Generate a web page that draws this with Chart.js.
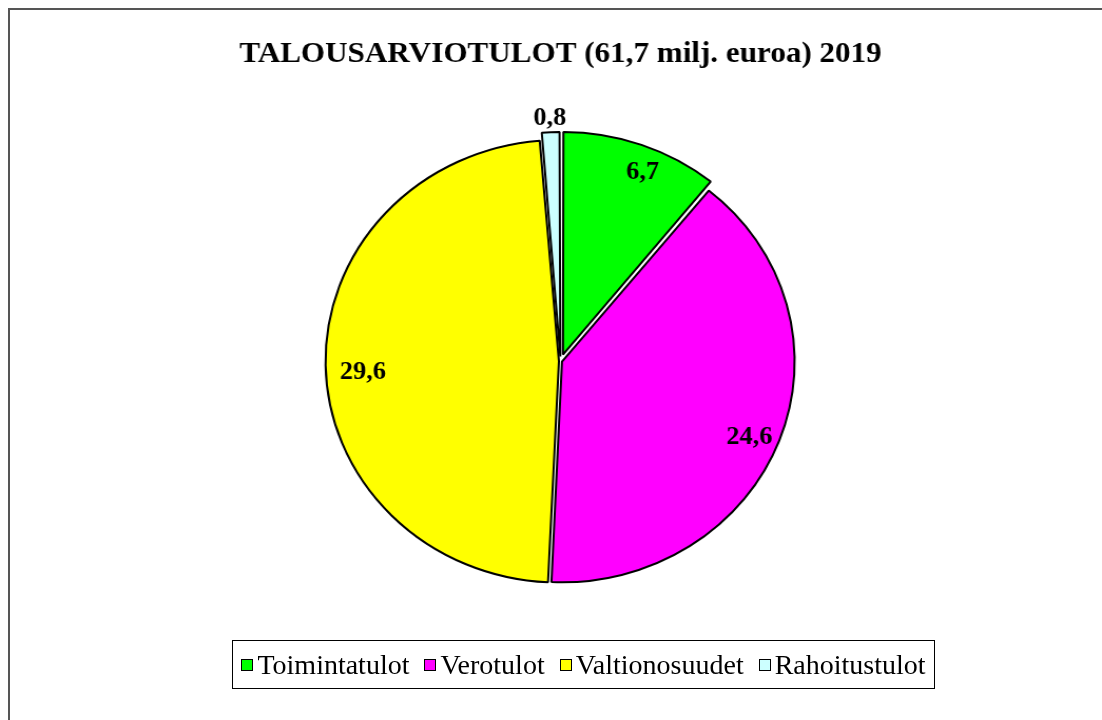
<!DOCTYPE html>
<html>
<head>
<meta charset="utf-8">
<script src="https://cdn.jsdelivr.net/npm/chart.js@4/dist/chart.umd.min.js"></script>
<style>
  html, body { margin: 0; padding: 0; background: #fff; overflow: hidden; }
  #wrap { position: relative; width: 1102px; height: 720px; }
  #frame {
    position: absolute; left: 8px; top: 8px; width: 1200px; height: 800px;
    border-top: 2px solid #555; border-left: 2px solid #555;
  }
  #pie { position: absolute; left: 0; top: 0; }
  #legend {
    position: absolute; left: 232px; top: 640px; width: 703px; height: 49px;
    box-sizing: border-box; border: 1px solid #000;
    display: flex; align-items: center; justify-content: center; gap: 15px;
    font-family: "Liberation Serif", "Times New Roman", serif; font-size: 28px; color: #000;
  }
  #legend .item { display: flex; align-items: center; white-space: nowrap; }
  #legend .box {
    width: 10px; height: 10px; border: 1px solid #000; margin-right: 4px;
  }
</style>
</head>
<body>
<div id="wrap">
  <div id="frame"></div>
  <canvas id="pie" width="1045" height="720" style="width:1102px;height:720px"></canvas>
  <div id="legend"></div>
</div>
<script>
  const titleText = "TALOUSARVIOTULOT (61,7 milj. euroa) 2019";
  const categories = ["Toimintatulot", "Verotulot", "Valtionosuudet", "Rahoitustulot"];
  const values = [6.7, 24.6, 29.6, 0.8];
  const colors = ["#00FF00", "#FF00FF", "#FFFF00", "#CCFFFF"];

  // explode amount per slice (chart.js draws offset/4), label distance and
  // where along the slice the label sits (0.5 = middle)
  const sliceOffsets = [28, 6, 6, 19];
  const labelRadius = [0.93, 0.865, 0.845, 1.12];
  const labelAlong = [0.555, 0.5, 0.5, 0.5];
  const labelDy = 8;

  const serif = "'Liberation Serif', 'Times New Roman', serif";

  function formatValue(v) {
    return v.toFixed(1).replace(".", ",");
  }

  const valueLabels = {
    id: "valueLabels",
    afterDatasetsDraw(chart) {
      const ctx = chart.ctx;
      const meta = chart.getDatasetMeta(0);
      ctx.save();
      ctx.font = "bold 25px " + serif;
      ctx.fillStyle = "#000";
      ctx.textAlign = "center";
      ctx.textBaseline = "middle";
      meta.data.forEach((arc, i) => {
        const { x, y, startAngle, endAngle, outerRadius } =
          arc.getProps(["x", "y", "startAngle", "endAngle", "outerRadius"], true);
        const mid = (startAngle + endAngle) / 2;
        const a = startAngle + (endAngle - startAngle) * labelAlong[i];
        const shift = sliceOffsets[i] / 4;
        const r = outerRadius * labelRadius[i];
        const px = x + Math.cos(mid) * shift + Math.cos(a) * r;
        const py = y + Math.sin(mid) * shift + Math.sin(a) * r + labelDy;
        ctx.fillText(formatValue(values[i]), px, py);
      });
      ctx.restore();
    },
  };

  function buildLegend() {
    const el = document.getElementById("legend");
    categories.forEach((name, i) => {
      const item = document.createElement("div");
      item.className = "item";
      const box = document.createElement("span");
      box.className = "box";
      box.style.background = colors[i];
      const txt = document.createElement("span");
      txt.textContent = name;
      item.appendChild(box);
      item.appendChild(txt);
      el.appendChild(item);
    });
  }

  buildLegend();

  new Chart(document.getElementById("pie"), {
    type: "pie",
    data: {
      labels: categories,
      datasets: [
        {
          data: values,
          backgroundColor: colors,
          borderColor: "#000",
          borderWidth: 2,
          offset: sliceOffsets,
          radius: 220,
        },
      ],
    },
    options: {
      responsive: false,
      devicePixelRatio: 1,
      animation: false,
      layout: {
        padding: { top: 20, left: 18, right: 0, bottom: 90 },
      },
      plugins: {
        legend: { display: false },
        tooltip: { enabled: false },
        title: {
          display: true,
          text: titleText,
          color: "#000",
          font: { family: serif, size: 29.5, weight: "bold" },
          padding: { top: 17, bottom: 20 },
        },
      },
    },
    plugins: [valueLabels],
  });
</script>
</body>
</html>
